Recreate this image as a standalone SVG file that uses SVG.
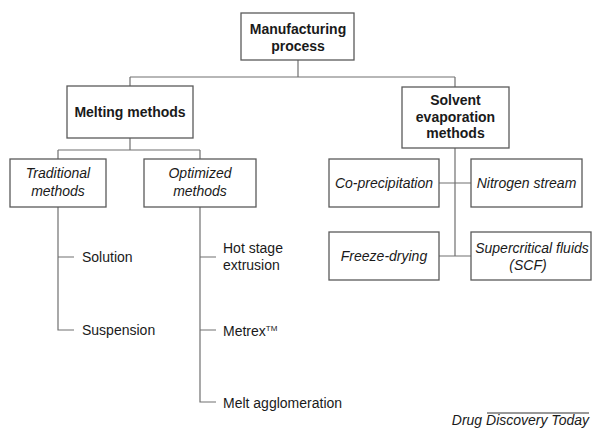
<svg xmlns="http://www.w3.org/2000/svg" width="592" height="428" viewBox="0 0 592 428">
<style>
.box{fill:#fff;stroke:#5a5a5a;stroke-width:1.3}
.c{stroke:#707070;stroke-width:1.2;fill:none}
text{font-family:"Liberation Sans",Arial,sans-serif;font-size:14px;fill:#1a1a1a}
.b{font-weight:bold}
.i{font-style:italic}
.m{text-anchor:middle}
</style>
<rect width="592" height="428" fill="#fff"/>
<g id="connectors">
<path class="c" d="M298 60V77M130 77H455M130 77V86M455 77V87"/>
<path class="c" d="M130 138V150M58 150H200M58 150V159M200 150V159"/>
<path class="c" d="M58 207V330H74M58 257H74"/>
<path class="c" d="M200 207V402H216M200 257H216M200 330H216"/>
<path class="c" d="M455 148V256M439 183H471M439 256H471"/>
</g>
<g id="manufacturing">
<rect class="box" x="241" y="13" width="113" height="47"/>
<text class="b m" x="298" y="34">Manufacturing</text>
<text class="b m" x="298" y="51">process</text>
</g>
<g id="melting">
<rect class="box" x="67" y="86" width="126" height="52"/>
<text class="b m" x="130" y="117">Melting methods</text>
</g>
<g id="solvent">
<rect class="box" x="402" y="87" width="107" height="61"/>
<text class="b m" x="455.5" y="105">Solvent</text>
<text class="b m" x="455.5" y="122">evaporation</text>
<text class="b m" x="455.5" y="138">methods</text>
</g>
<g id="traditional">
<rect class="box" x="10" y="159" width="96" height="48"/>
<text class="i m" x="58" y="178">Traditional</text>
<text class="i m" x="58" y="196">methods</text>
</g>
<g id="optimized">
<rect class="box" x="144" y="159" width="112" height="48"/>
<text class="i m" x="200" y="178">Optimized</text>
<text class="i m" x="200" y="196">methods</text>
</g>
<g id="solution"><text x="82" y="262">Solution</text></g>
<g id="suspension"><text x="82" y="335">Suspension</text></g>
<g id="hotstage">
<text x="223" y="253">Hot stage</text>
<text x="223" y="270">extrusion</text>
</g>
<g id="metrex"><text x="223" y="336">Metrex<tspan font-size="8" dy="-5">TM</tspan></text></g>
<g id="melt"><text x="223" y="408">Melt agglomeration</text></g>
<g id="coprecipitation">
<rect class="box" x="329" y="159" width="110" height="48"/>
<text class="i m" x="384" y="188">Co-precipitation</text>
</g>
<g id="nitrogen">
<rect class="box" x="471" y="159" width="111" height="48"/>
<text class="i m" x="526.5" y="188">Nitrogen stream</text>
</g>
<g id="freeze">
<rect class="box" x="329" y="232" width="110" height="48"/>
<text class="i m" x="384" y="261">Freeze-drying</text>
</g>
<g id="scf">
<rect class="box" x="471" y="232" width="120" height="48"/>
<text class="i m" x="532" y="253">Supercritical fluids</text>
<text class="i m" x="528" y="270">(SCF)</text>
</g>
<g id="credit">
<line x1="487" y1="413" x2="589" y2="413" stroke="#333" stroke-width="1"/>
<text class="i" x="589" y="424.5" text-anchor="end" font-size="10.2">Drug Discovery Today</text>
</g>
</svg>
